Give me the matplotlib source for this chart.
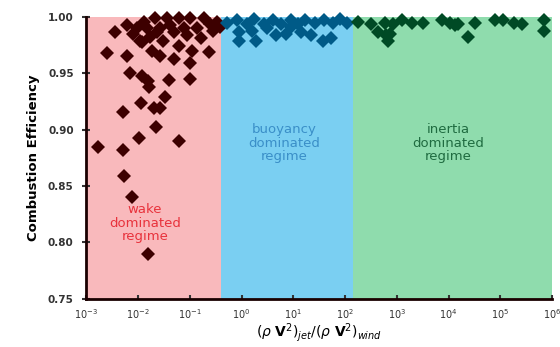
import numpy as np
import matplotlib
matplotlib.use('Agg')
import matplotlib.pyplot as plt
from matplotlib.ticker import LogLocator, FixedLocator

# regime boundaries (momentum flux ratio)
bounds = [1e-3, 10 ** -0.40, 10 ** 2.15, 1e6]
region_colors = ['#f9b9bc', '#7acff2', '#8fdcad']
marker_colors = ['#3d0000', '#005a87', '#004a25']

# wake dominated regime: log10(ratio), efficiency
wake_logx = [-2.44, -2.59, -2.22, -2.22, -1.93, -1.73, -1.57, -1.31, -1.21, -0.96,
             -0.63, -0.99, -2.15, -1.93, -1.80, -1.41, -0.99, -1.47, -1.95, -1.70,
             -1.57, -2.29, -1.65, -1.99, -1.21, -2.77, -2.29, -2.28, -2.12, -1.81,
             -2.09, -1.96, -1.89, -1.76, -1.67, -1.57, -1.51, -1.44, -1.31, -1.21,
             -1.12, -0.99, -0.86, -0.73, -0.60, -0.47, -0.79, -2.02, -1.83, -1.38,
             -1.63, -1.05, -0.41, -0.55, -1.78]
wake_eff = [0.987, 0.968, 0.965, 0.993, 0.978, 0.970, 0.965, 0.963, 0.974, 0.970,
            0.969, 0.959, 0.950, 0.948, 0.943, 0.944, 0.945, 0.929, 0.924, 0.919,
            0.919, 0.916, 0.902, 0.893, 0.890, 0.885, 0.882, 0.859, 0.840, 0.790,
            0.985, 0.979, 0.996, 0.982, 0.999, 0.990, 0.979, 0.999, 0.987, 0.999,
            0.990, 0.999, 0.990, 0.999, 0.994, 0.996, 0.981, 0.990, 0.990, 0.993,
            0.987, 0.984, 0.991, 0.988, 0.938]

# buoyancy dominated regime
buoy_logx = [-0.28, -0.09, 0.11, 0.24, 0.44, 0.60, 0.76, 0.96, 1.09, 1.22,
             1.41, 1.60, 1.77, 1.90, 2.03, -0.05, 0.28, -0.05, 0.66, 0.86,
             1.15, 1.34, 1.57, 1.73, 0.21, 0.50, 0.95]
buoy_eff = [0.995, 0.997, 0.994, 0.998, 0.994, 0.997, 0.994, 0.997, 0.994, 0.997,
            0.995, 0.997, 0.995, 0.998, 0.995, 0.979, 0.979, 0.987, 0.984, 0.985,
            0.987, 0.984, 0.979, 0.981, 0.988, 0.990, 0.991]

# inertia dominated regime
inert_logx = [2.25, 2.51, 2.64, 2.77, 2.93, 3.09, 3.29, 3.51, 3.87, 4.03,
              4.19, 4.51, 4.90, 5.06, 5.26, 5.42, 5.84, 2.86, 2.80, 2.83,
              4.38, 5.84, 4.13]
inert_eff = [0.996, 0.994, 0.987, 0.995, 0.994, 0.997, 0.995, 0.995, 0.997, 0.995,
             0.994, 0.995, 0.997, 0.997, 0.995, 0.994, 0.997, 0.985, 0.984, 0.979,
             0.982, 0.988, 0.993]

labels = ['wake\ndominated\nregime', 'buoyancy\ndominated\nregime',
          'inertia\ndominated\nregime']
label_x = [10 ** -1.87, 10 ** 0.83, 10 ** 4.0]
label_y = [0.817, 0.888, 0.888]
label_colors = ['#e8323c', '#3a8fc8', '#1f6b40']

fig = plt.figure(figsize=(5.6, 3.47), dpi=100)
ax = fig.add_axes([0.154, 0.139, 0.832, 0.812])

for i in range(3):
    ax.axvspan(bounds[i], bounds[i + 1], color=region_colors[i], lw=0, zorder=0)

for lx, ey, c in [(wake_logx, wake_eff, marker_colors[0]),
                  (buoy_logx, buoy_eff, marker_colors[1]),
                  (inert_logx, inert_eff, marker_colors[2])]:
    ax.plot(10 ** np.array(lx), ey, 'D', color=c, markersize=7.5,
            markeredgewidth=0, clip_on=False, zorder=3)

for t, x, y, c in zip(labels, label_x, label_y, label_colors):
    ax.text(x, y, t, color=c, ha='center', va='center', fontsize=9.5,
            family='DejaVu Sans', linespacing=1.05, zorder=2)

ax.set_xscale('log')
ax.set_xlim(1e-3, 1e6)
ax.set_ylim(0.75, 1.0)
ax.xaxis.set_major_locator(LogLocator(base=10, numticks=20))
ax.xaxis.set_minor_locator(FixedLocator([]))
ax.yaxis.set_major_locator(FixedLocator([0.75, 0.80, 0.85, 0.90, 0.95, 1.00]))
ax.yaxis.set_major_formatter(plt.FormatStrFormatter('%.2f'))

for s in ['top', 'right']:
    ax.spines[s].set_visible(False)
for s in ['left', 'bottom']:
    ax.spines[s].set_linewidth(2)
    ax.spines[s].set_color('#1a0000')
    ax.spines[s].set_zorder(4)

ax.tick_params(axis='x', direction='in', length=3, width=1.5, labelsize=7,
               colors='#333333', pad=6)
ax.tick_params(axis='y', direction='inout', length=6, width=1.5, labelsize=7.5,
               colors='#333333', pad=6)
for lab in ax.get_yticklabels():
    lab.set_fontweight('bold')

ax.set_ylabel('Combustion Efficiency', fontsize=9.5, fontweight='bold', labelpad=6)
ax.set_xlabel(r'$(\rho\ \mathbf{V}^2)_{jet}/(\rho\ \mathbf{V}^2)_{wind}$',
              fontsize=10, labelpad=0)

fig.savefig('out.png', dpi=100)
